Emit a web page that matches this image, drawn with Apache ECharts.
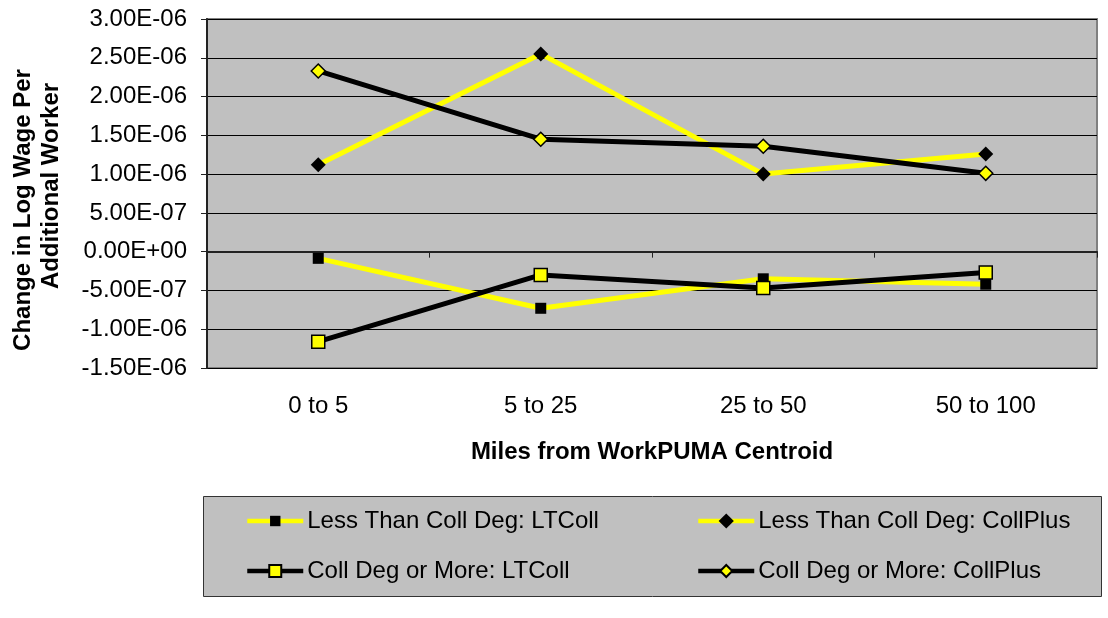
<!DOCTYPE html>
<html>
<head>
<meta charset="utf-8">
<script src="https://cdn.jsdelivr.net/npm/echarts@6/dist/echarts.min.js"></script>
<style>
html,body{margin:0;padding:0;background:#fff;}
#chart{width:1108px;height:618px;}
</style>
</head>
<body>
<div id="chart"></div>
<script>
const categories = ['0 to 5', '5 to 25', '25 to 50', '50 to 100'];
const seriesNames = [
  'Less Than Coll Deg: LTColl',
  'Less Than Coll Deg: CollPlus',
  'Coll Deg or More: LTColl',
  'Coll Deg or More: CollPlus'
];
const ltLTColl   = [-8.6e-8, -7.3e-7, -3.5e-7, -4.2e-7];
const ltCollPlus = [1.12e-6, 2.55e-6, 1.00e-6, 1.26e-6];
const cdLTColl   = [-1.16e-6, -3.0e-7, -4.7e-7, -2.7e-7];
const cdCollPlus = [2.33e-6, 1.45e-6, 1.36e-6, 1.01e-6];
const yTicks = { min: -1.5e-6, max: 3.0e-6, interval: 5e-7 };
const xTitle = 'Miles from WorkPUMA Centroid';
const yTitleLines = ['Change in Log Wage Per', 'Additional Worker'];

const FONT = 'Liberation Sans, Arial, Helvetica, sans-serif';

function sci(v) {
  if (Math.abs(v) < 1e-15) return '0.00E+00';
  const s = v.toExponential(2);
  const parts = s.split('e');
  const e = parseInt(parts[1], 10);
  const sign = e < 0 ? '-' : '+';
  const d = Math.abs(e);
  return parts[0] + 'E' + sign + (d < 10 ? '0' + d : d);
}

const chart = echarts.init(document.getElementById('chart'), null, { renderer: 'canvas' });

function lineSeries(name, data, lineColor, symbol, size, fill, border, bw) {
  return {
    name: name,
    type: 'line',
    data: data,
    symbol: symbol,
    symbolSize: size,
    lineStyle: { color: lineColor, width: 5 },
    itemStyle: { color: fill, borderColor: border, borderWidth: bw },
    emphasis: { disabled: true },
    animation: false,
    z: 3
  };
}

const rowY = [519, 569];
const colX = [245, 696];
function legendAt(name, col, row, ih) {
  return {
    data: [name],
    left: colX[col],
    top: rowY[row] - 10,
    padding: 0,
    itemWidth: 56,
    itemHeight: ih,
    itemGap: 0,
    selectedMode: false,
    lineStyle: { width: 4.5 },
    textStyle: { fontFamily: FONT, fontSize: 24, color: '#000', padding: [0, 0, 0, -1] }
  };
}

chart.setOption({
  backgroundColor: '#ffffff',
  animation: false,
  grid: {
    left: 207, right: 11, top: 19, bottom: 250,
    show: true,
    backgroundColor: '#c0c0c0',
    borderColor: '#808080',
    borderWidth: 2
  },
  xAxis: {
    type: 'category',
    data: categories,
    boundaryGap: true,
    axisLine: { show: true, lineStyle: { color: '#222', width: 2 } },
    axisTick: { show: true, length: 6, lineStyle: { color: '#222', width: 1 } },
    axisLabel: { fontFamily: FONT, fontSize: 24, color: '#000', margin: 26 },
    name: xTitle,
    nameLocation: 'middle',
    nameGap: 72,
    nameTextStyle: { fontFamily: FONT, fontSize: 24, fontWeight: 'bold', color: '#000' }
  },
  yAxis: {
    type: 'value',
    min: yTicks.min,
    max: yTicks.max,
    interval: yTicks.interval,
    axisLine: { show: true, lineStyle: { color: '#222', width: 2 } },
    axisTick: { show: true, length: 6, lineStyle: { color: '#222', width: 1 } },
    axisLabel: { fontFamily: FONT, fontSize: 24, color: '#000', margin: 20, formatter: sci },
    splitLine: { show: true, lineStyle: { color: '#000', width: 1 } }
  },
  legend: [
    legendAt(seriesNames[0], 0, 0, 13),
    legendAt(seriesNames[1], 1, 0, 19),
    legendAt(seriesNames[2], 0, 1, 15),
    legendAt(seriesNames[3], 1, 1, 15)
  ],
  graphic: [
    {
      type: 'rect', z: -1, silent: true,
      shape: { x: 203.5, y: 496.5, width: 898, height: 100 },
      style: { fill: '#c0c0c0', stroke: '#333', lineWidth: 1 }
    },
    {
      type: 'text', silent: true, x: 23, y: 210, rotation: Math.PI / 2,
      style: { text: yTitleLines[0], font: 'bold 24px ' + FONT, fill: '#000', textAlign: 'center', textVerticalAlign: 'middle' }
    },
    {
      type: 'text', silent: true, x: 51, y: 186, rotation: Math.PI / 2,
      style: { text: yTitleLines[1], font: 'bold 24px ' + FONT, fill: '#000', textAlign: 'center', textVerticalAlign: 'middle' }
    }
  ],
  series: [
    lineSeries(seriesNames[0], ltLTColl, '#ffff00', 'rect', 11, '#000000', '#000000', 0),
    lineSeries(seriesNames[1], ltCollPlus, '#ffff00', 'diamond', 15, '#000000', '#000000', 0),
    lineSeries(seriesNames[2], cdLTColl, '#000000', 'rect', 13, '#ffff00', '#000000', 1.5),
    lineSeries(seriesNames[3], cdCollPlus, '#000000', 'diamond', 14, '#ffff00', '#000000', 1.5)
  ]
});
</script>
</body>
</html>
